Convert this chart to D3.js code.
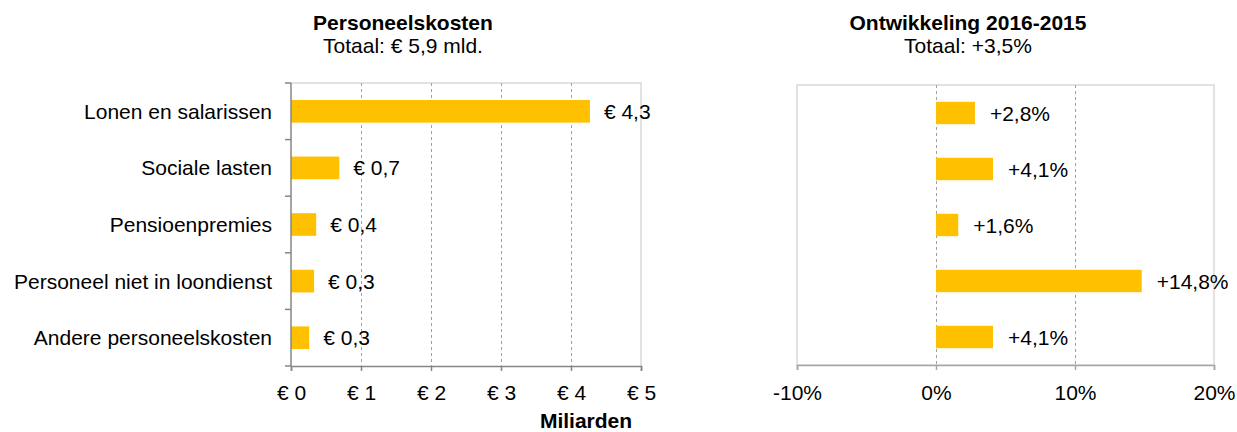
<!DOCTYPE html>
<html>
<head>
<meta charset="utf-8">
<script src="https://cdn.jsdelivr.net/npm/d3@7"></script>
<style>
  body { margin: 0; background: #fff; }
  svg { font-family: "Liberation Sans", Arial, sans-serif; }
</style>
</head>
<body>
<svg id="chart" width="1237" height="432"></svg>
<script>
let categories = ["Lonen en salarissen", "Sociale lasten", "Pensioenpremies", "Personeel niet in loondienst", "Andere personeelskosten"];
let costs = [4.27, 0.69, 0.36, 0.33, 0.26];
let costLabels = ["€ 4,3", "€ 0,7", "€ 0,4", "€ 0,3", "€ 0,3"];
let growth = [2.8, 4.1, 1.6, 14.8, 4.1];
let growthLabels = ["+2,8%", "+4,1%", "+1,6%", "+14,8%", "+4,1%"];
let costTicks = [0, 1, 2, 3, 4, 5];
let growthTicks = [-10, 0, 10, 20];

let svg = d3.select("#chart");
let barColor = "#FFC000";
let fs = 21;

// ---- left chart
let left = { x0: 291, x1: 641, y0: 83, y1: 366 };

let xCost = d3.scaleLinear().domain([0, 5]).range([left.x0, left.x1]);
let yCat = d3.scaleBand()
    .domain(categories)
    .range([left.y0, left.y1])
    .paddingInner(0.6)
    .paddingOuter(0.3);

// border top/right
svg.append("path")
    .attr("d", "M" + left.x0 + "," + left.y0 + "H" + left.x1 + "V" + left.y1)
    .attr("fill", "none")
    .attr("stroke", "#d9d9d9")
    .attr("stroke-width", 1.5);

// gridlines
svg.append("g")
    .selectAll("line")
    .data(costTicks.slice(1, -1))
    .enter()
    .append("line")
    .attr("x1", d => xCost(d) + 0.5)
    .attr("x2", d => xCost(d) + 0.5)
    .attr("y1", left.y0)
    .attr("y2", left.y1)
    .attr("stroke", "#a0a0a0")
    .attr("stroke-dasharray", "3,3");

svg.append("g")
    .selectAll("rect")
    .data(costs)
    .enter()
    .append("rect")
    .attr("x", xCost(0))
    .attr("y", (d, i) => yCat(categories[i]))
    .attr("width", d => xCost(d) - xCost(0))
    .attr("height", yCat.bandwidth())
    .attr("fill", barColor);

svg.append("g")
    .selectAll("text")
    .data(costs)
    .enter()
    .append("text")
    .attr("x", d => xCost(d) + 14)
    .attr("y", (d, i) => yCat(categories[i]) + yCat.bandwidth() / 2)
    .attr("dy", "0.36em")
    .attr("font-size", fs)
    .attr("fill", "#000")
    .text((d, i) => costLabels[i]);

// category labels
svg.append("g")
    .selectAll("text")
    .data(categories)
    .enter()
    .append("text")
    .attr("x", 272)
    .attr("y", d => yCat(d) + yCat.bandwidth() / 2)
    .attr("dy", "0.36em")
    .attr("text-anchor", "end")
    .attr("font-size", fs)
    .text(d => d);

// y axis line + ticks between categories
let yAxisG = svg.append("g");
yAxisG.append("line")
    .attr("x1", left.x0).attr("x2", left.x0)
    .attr("y1", left.y0).attr("y2", left.y1)
    .attr("stroke", "#868686").attr("stroke-width", 1.5);
yAxisG.selectAll(".tk")
    .data(d3.range(categories.length + 1))
    .enter()
    .append("line")
    .attr("x1", left.x0 - 6).attr("x2", left.x0)
    .attr("y1", i => left.y0 + i * (left.y1 - left.y0) / categories.length)
    .attr("y2", i => left.y0 + i * (left.y1 - left.y0) / categories.length)
    .attr("stroke", "#868686").attr("stroke-width", 1.5);

// x axis
let xAxisL = svg.append("g")
    .attr("transform", "translate(0," + left.y1 + ")")
    .call(d3.axisBottom(xCost).tickValues(costTicks).tickSize(5).tickPadding(14).tickFormat(d => "€ " + d));
xAxisL.select(".domain").attr("stroke", "#868686").attr("stroke-width", 1.5);
xAxisL.selectAll(".tick line").attr("stroke", "#868686").attr("stroke-width", 1.5);
xAxisL.selectAll("text").attr("font-size", fs).attr("font-family", "Liberation Sans, Arial, sans-serif").attr("fill", "#000");

svg.append("text")
    .attr("x", 586).attr("y", 428)
    .attr("text-anchor", "middle")
    .attr("font-size", fs).attr("font-weight", "bold")
    .text("Miliarden");

svg.append("text")
    .attr("x", 403).attr("y", 30)
    .attr("text-anchor", "middle")
    .attr("font-size", fs).attr("font-weight", "bold")
    .text("Personeelskosten");
svg.append("text")
    .attr("x", 403).attr("y", 53)
    .attr("text-anchor", "middle")
    .attr("font-size", fs)
    .text("Totaal: € 5,9 mld.");

// ---- right chart
let right = { x0: 797, x1: 1214, y0: 85, y1: 365 };

let xGrowth = d3.scaleLinear().domain([-10, 20]).range([right.x0, right.x1]);
let yCat2 = d3.scaleBand()
    .domain(categories)
    .range([right.y0, right.y1])
    .paddingInner(0.6)
    .paddingOuter(0.3);

svg.append("rect")
    .attr("x", right.x0).attr("y", right.y0)
    .attr("width", right.x1 - right.x0).attr("height", right.y1 - right.y0)
    .attr("fill", "none")
    .attr("stroke", "#d9d9d9").attr("stroke-width", 1.5);

svg.append("g")
    .selectAll("line")
    .data(growthTicks.slice(1, -1))
    .enter()
    .append("line")
    .attr("x1", d => xGrowth(d) + 0.5)
    .attr("x2", d => xGrowth(d) + 0.5)
    .attr("y1", right.y0)
    .attr("y2", right.y1)
    .attr("stroke", "#a0a0a0")
    .attr("stroke-dasharray", "3,3");

svg.append("g")
    .selectAll("rect")
    .data(growth)
    .enter()
    .append("rect")
    .attr("x", d => xGrowth(Math.min(0, d)))
    .attr("y", (d, i) => yCat2(categories[i]))
    .attr("width", d => Math.abs(xGrowth(d) - xGrowth(0)))
    .attr("height", yCat2.bandwidth())
    .attr("fill", barColor);

svg.append("g")
    .selectAll("text")
    .data(growth)
    .enter()
    .append("text")
    .attr("x", d => xGrowth(d) + 15)
    .attr("y", (d, i) => yCat2(categories[i]) + yCat2.bandwidth() / 2)
    .attr("dy", "0.36em")
    .attr("font-size", fs)
    .text((d, i) => growthLabels[i]);

let xAxisR = svg.append("g")
    .attr("transform", "translate(0," + right.y1 + ")")
    .call(d3.axisBottom(xGrowth).tickValues(growthTicks).tickSize(5).tickPadding(15).tickFormat(d => d + "%"));
xAxisR.select(".domain").attr("stroke", "#a6a6a6").attr("stroke-width", 1.5);
xAxisR.selectAll(".tick line").attr("stroke", "#a6a6a6").attr("stroke-width", 1.5);
xAxisR.selectAll("text").attr("font-size", fs).attr("font-family", "Liberation Sans, Arial, sans-serif").attr("fill", "#000");

svg.append("text")
    .attr("x", 968).attr("y", 30)
    .attr("text-anchor", "middle")
    .attr("font-size", fs).attr("font-weight", "bold")
    .text("Ontwikkeling 2016-2015");
svg.append("text")
    .attr("x", 968).attr("y", 53)
    .attr("text-anchor", "middle")
    .attr("font-size", fs)
    .text("Totaal: +3,5%");
</script>
</body>
</html>
